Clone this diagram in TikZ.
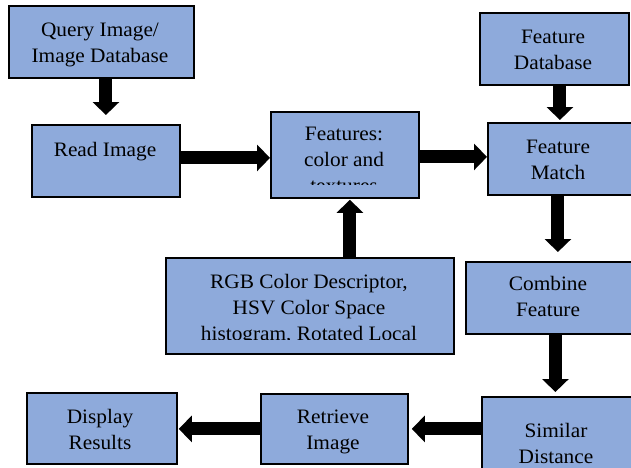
\documentclass[tikz,border=0pt]{standalone}
\usepackage{fontspec}
\setmainfont{Liberation Serif}
\newfontfamily\tnrfont[FakeStretch=1.04]{Liberation Serif}
\usetikzlibrary{arrows.meta}
\definecolor{boxfill}{HTML}{8EAADB}
\newcommand\firstln{\rule{0pt}{15pt}}
\begin{document}
\begin{tikzpicture}[x=1pt,y=-1pt,
  box/.style={draw=black,line width=1.8pt,fill=boxfill,inner sep=0pt,anchor=north west},
  txt/.style={font=\tnrfont\fontsize{20.5}{26}\selectfont,align=center,inner sep=0pt,anchor=north,text=black},
  arr/.style={line width=13pt,-{Triangle[width=26pt,length=13pt]}}]
\useasboundingbox[fill=white] (0,0) rectangle (631,467);
% boxes
\node[box,minimum width=185pt,minimum height=72pt] (q) at (8,5) {};
\node[box,minimum width=148pt,minimum height=72pt] (read) at (31,124) {};
\node[box,minimum width=148pt,minimum height=86pt] (feat) at (270,111) {};
\node[box,minimum width=149pt,minimum height=72pt] (fdb) at (479,12) {};
\node[box,minimum width=144pt,minimum height=72pt] (fmatch) at (487,122) {};
\node[box,minimum width=288pt,minimum height=96pt] (rgb) at (165,257) {};
\node[box,minimum width=169pt,minimum height=72pt] (comb) at (465,261) {};
\node[box,minimum width=153pt,minimum height=72pt] (sim) at (481,396) {};
\node[box,minimum width=147pt,minimum height=70pt] (retr) at (260,393) {};
\node[box,minimum width=150pt,minimum height=71pt] (disp) at (26,392) {};
% texts
\node[txt] (qt) at (100,21) {\firstln Query Image/\\Image Database};
\node[txt] (readt) at (105,141) {\firstln Read Image};
\begin{scope}
\clip (271,112) rectangle (417,184);
\node[txt] (featt) at (344,125) {\firstln Features:\\color and\\textures};
\end{scope}
\node[txt] (fdbt) at (553,28) {\firstln Feature\\Database};
\node[txt] (fmatcht) at (558,138) {\firstln Feature\\Match};
\begin{scope}
\clip (166,258) rectangle (452,339);
\node[txt] (rgbt) at (309,273) {\firstln RGB Color Descriptor,\\HSV Color Space\\histogram, Rotated Local};
\end{scope}
\node[txt] (combt) at (548,275) {\firstln Combine\\Feature};
\node[txt] (simt) at (556,422) {\firstln Similar\\Distance};
\node[txt] (retrt) at (333,408) {\firstln Retrieve\\Image};
\node[txt] (dispt) at (100,408) {\firstln Display\\Results};
% arrows
\draw[arr,shorten >=9pt] (q.south -| read.north) -- (read.north);
\draw[arr] ([yshift=3pt]read.east) -- ([yshift=-3pt]feat.west);
\draw[arr] ([yshift=-2pt]feat.east) -- ([yshift=2pt]fmatch.west);
\draw[arr,shorten >=2pt] (fdb.south -| fmatch.north) -- (fmatch.north);
\draw[arr,shorten >=9pt] ([xshift=-2pt]fmatch.south) -- ([xshift=-2pt]fmatch.south |- comb.north);
\coordinate (fx) at ([xshift=5pt]feat.south);
\draw[arr,shorten >=1pt] (fx |- rgb.north) -- (fx);
\coordinate (cx) at ([xshift=-3pt]sim.north);
\draw[arr,shorten >=4pt] (cx |- comb.south) -- (cx);
\draw[arr,shorten >=3pt] (sim.west |- retr.east) -- (retr.east);
\draw[arr,shorten >=1pt] (retr.west) -- (disp.east |- retr.west);
\end{tikzpicture}
\end{document}
